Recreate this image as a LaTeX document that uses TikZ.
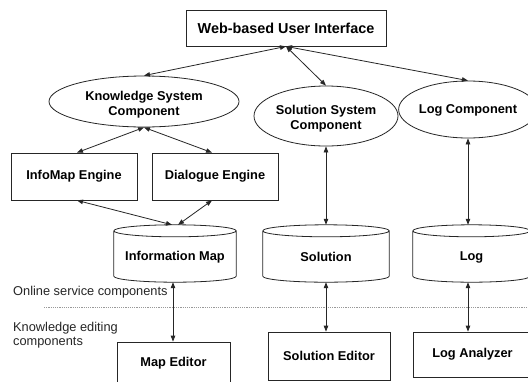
\documentclass[tikz,border=0pt]{standalone}
\usepackage{fontspec}
\setmainfont{Liberation Sans}
\usetikzlibrary{arrows.meta,shapes.geometric,calc}
\newcommand\dropby[2]{\raisebox{-#1}[\height][\depth]{#2}}
\newcommand\drawcyl[1]{%
  \draw[cylline] let \p1=(#1.north west), \p2=(#1.south east), \n1={(\x2-\x1)/2} in
    (\x1,\y1-6pt) arc[start angle=180, end angle=-180, x radius=\n1, y radius=6pt]
    (\x1,\y1-6pt) -- (\x1,\y2+6pt) arc[start angle=180, end angle=360, x radius=\n1, y radius=6pt] -- (\x2,\y1-6pt);}
\begin{document}
\begin{tikzpicture}[x=1pt,y=-1pt,
  every node/.style={font=\fontsize{12.8}{15}\selectfont\bfseries, inner sep=0pt, text=black},
  box/.style={draw=black!85, line width=0.8pt, rectangle},
  ell/.style={draw=black!85, line width=0.8pt, ellipse},
  cyl/.style={rectangle, inner sep=0pt},
  cylline/.style={draw=black!85, line width=0.8pt},
  conn/.style={line width=0.8pt, draw=black!85, {Triangle[length=6pt,width=4.5pt]}-{Triangle[length=6pt,width=4.5pt]}},
  note/.style={font=\fontsize{12.8}{14}\selectfont, align=left, text=black!85},
  dotline/.style={draw=black!40, line width=0.6pt, dash pattern=on 1.2pt off 1pt}
]
\useasboundingbox (0,0) rectangle (528,381);
\fill[white] (0,0) rectangle (528,381);

% top
\node[box, minimum width=200, minimum height=36, font=\fontsize{14.4}{16}\selectfont\bfseries] (ui) at (286,28) {Web-based User Interface};

% ellipses
\node[ell, minimum width=190, minimum height=51] (ksc) at (144,101.5)
  {\dropby{3pt}{\begin{tabular}{@{}c@{}}Knowledge System\\Component\end{tabular}}};
\node[ell, minimum width=144, minimum height=60] (ssc) at (326,116)
  {\dropby{3pt}{\begin{tabular}{@{}c@{}}Solution System\\Component\end{tabular}}};
\node[ell, minimum width=122, minimum height=57] (logc) at (468,109.5) {\dropby{1pt}{Log Component}};

% engines
\node[box, minimum width=126, minimum height=47] (ime) at (74,176.5) {InfoMap Engine};
\node[box, minimum width=126, minimum height=47] (dle) at (215,176.5) {Dialogue Engine};

% databases
\node[cyl, minimum width=122, minimum height=57] (im) at (175,253.5) {\dropby{3.5pt}{Information Map}};
\node[cyl, minimum width=126, minimum height=57] (sol) at (326,253.5) {\dropby{3.5pt}{Solution}};
\node[cyl, minimum width=117, minimum height=57] (logdb) at (471.5,253.5) {\dropby{3.5pt}{Log}};
\drawcyl{im}
\drawcyl{sol}
\drawcyl{logdb}

% editors
\node[box, minimum width=113, minimum height=44] (med) at (173.5,364) {\dropby{-1pt}{Map Editor}};
\node[box, minimum width=122, minimum height=48] (sed) at (329,356) {Solution Editor};
\node[box, minimum width=119, minimum height=45] (lan) at (472.5,354.5) {Log Analyzer};

% separator
\coordinate (sepl) at (44,307);
\coordinate (sepr) at (528,307);
\draw[dotline] (sepl) -- (sepr);
\node[note, anchor=west] (on) at (13,292) {Online service components};
\node[note, anchor=north west] (ke) at (13,322) {Knowledge editing\\components};

% connectors
\draw[conn] (ui.south) -- (ksc.north);
\draw[conn] (ui.south) -- (ssc.north);
\draw[conn] (ui.south) -- (logc.north);
\draw[conn] (ksc.south) -- ([xshift=3pt]ime.north);
\draw[conn] (ksc.south) -- ([xshift=-3pt]dle.north);
\draw[conn] ([xshift=3pt]ime.south) -- ([xshift=-3pt]im.north);
\draw[conn] ([xshift=-3pt]dle.south) -- ([xshift=3pt]im.north);
\draw[conn] (ssc.south) -- (ssc.south |- sol.north);
\draw[conn] (logc.south) -- (logc.south |- logdb.north);
\draw[conn] ([xshift=-2pt]im.south) -- ([xshift=-2pt]im.south |- med.north);
\draw[conn] (sol.south) -- (sol.south |- sed.north);
\draw[conn] (logc.south |- logdb.south) -- (logc.south |- lan.north);
\end{tikzpicture}
\end{document}
